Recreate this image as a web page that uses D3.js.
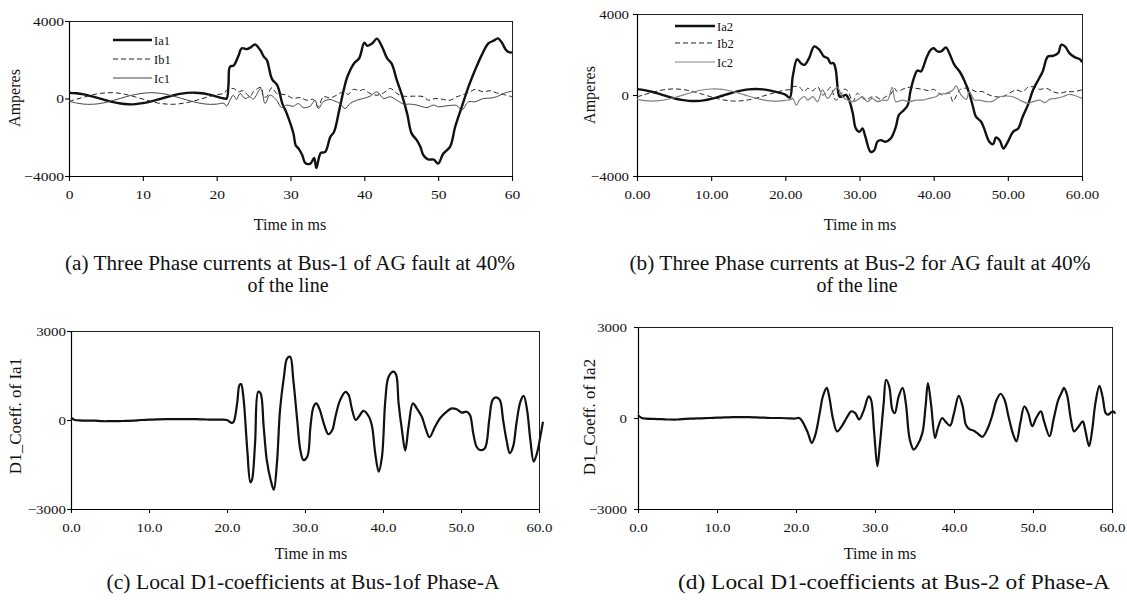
<!DOCTYPE html>
<html>
<head>
<meta charset="utf-8">
<script src="https://cdn.jsdelivr.net/npm/d3@7"></script>
<style>
  html, body { margin: 0; padding: 0; background: #fff; }
  svg { display: block; }
  text { font-family: "Liberation Serif", "Times New Roman", serif; fill: #111; }
</style>
</head>
<body>
<svg id="chart" width="1127" height="601"></svg>
<script>
// ---------------- DATA ----------------
// Panel (a): three phase currents at Bus-1 (Amperes vs ms)
const tIa1 = [0,1,2,3,4,5,6,7,8,9,10,11,12,13,14,15,16,17,18,19,20,21,21.35,21.6,21.8,22.3,22.9,23.4,24.1,24.6,25.2,25.9,26.4,26.8,27.5,28.2,28.9,29.5,30.4,30.7,31.1,31.6,32.0,32.7,33.2,33.5,34.1,34.7,35.4,35.9,36.6,37.2,37.7,38.6,39.3,40.0,40.4,41.1,41.7,42.4,43.1,43.7,44.4,45.1,45.8,46.4,47.1,47.6,48.0,48.7,49.4,50.0,50.7,51.6,52.3,53.2,54.1,55.0,55.9,56.8,57.5,58.1,58.6,59.2,59.7,60.0];
const ia1  = [290,270,210,120,20,-90,-190,-260,-300,-290,-240,-160,-60,50,150,240,290,300,270,200,100,0,0,700,1640,1700,2150,2590,2550,2640,2790,2500,2150,1980,1000,690,-260,-780,-1810,-2410,-2590,-2930,-3330,-3360,-3070,-3590,-2810,-2760,-1980,-1720,-600,430,1120,1810,2070,2880,2720,2850,3090,2670,2070,1800,950,170,-780,-1800,-2150,-2500,-2930,-3150,-3150,-3360,-2840,-2500,-1470,-430,600,1470,2240,2840,2980,3100,2900,2500,2380,2380];

const tIb1 = [0,1,2,3,4,5,6,7,8,9,10,11,12,13,14,15,16,17,18,19,20,21,21.35,22.26,22.93,23.61,24.51,24.97,26.0,26.32,26.77,27.45,28.13,28.8,29.48,30.38,31.29,32.19,33.09,33.77,34.45,35.35,36.25,37.16,37.83,38.51,39.41,39.86,40.77,41.71,42.61,43.51,44.41,45.32,46.67,48.02,48.69,49.59,50.72,51.62,52.52,53.2,54.32,55.0,56.13,57.03,57.93,58.83,60.0];
const ib1  = [-150,-40,70,170,250,290,300,260,180,80,-30,-140,-230,-280,-300,-270,-210,-120,-10,100,200,270,430,520,345,400,90,345,570,90,90,550,260,220,170,0,50,-90,-50,-430,90,30,170,345,220,470,400,470,260,170,290,520,260,120,120,90,-90,0,-50,-90,90,170,345,470,345,400,290,210,90];

const tIc1 = [0,1,2,3,4,5,6,7,8,9,10,11,12,13,14,15,16,17,18,19,20,21,21.35,21.81,22.26,22.71,23.16,23.84,24.51,24.97,26.0,26.55,27.22,28.13,28.8,29.48,30.38,31.06,31.74,32.64,33.32,33.77,34.45,35.35,36.03,36.7,37.38,38.06,38.96,39.86,40.77,41.71,42.61,43.51,44.41,45.32,46.22,47.12,48.47,49.37,50.05,50.72,51.62,52.52,53.2,54.1,55.0,56.13,57.03,57.93,58.83,60.0];
const ic1  = [-150,-230,-290,-300,-270,-200,-100,10,120,210,270,300,280,230,140,30,-80,-180,-260,-300,-290,-250,-400,-90,170,-50,260,0,90,-30,520,-260,170,-90,-470,-340,-400,-260,-470,-400,-90,-520,-170,-50,-140,-260,-520,-260,-90,0,120,345,0,90,-90,-290,-290,-340,-470,-340,-430,-400,-360,-360,-600,-170,-170,0,20,90,260,380];

// Panel (b): three phase currents at Bus-2
const tIa2 = [0,1,2,3,4,5,6,7,8,9,10,11,12,13,14,15,16,17,18,19,20,20.6,21.0,21.6,22.1,22.6,23.2,23.9,24.6,25.2,25.7,26.1,26.5,26.8,27.3,27.6,28.2,28.6,29.1,29.5,30.0,30.4,30.8,31.5,32.0,32.4,32.9,33.5,34.2,34.9,35.3,36.0,36.5,36.9,37.4,37.8,38.3,38.7,39.1,39.6,40.0,40.5,41.0,41.67,42.1,42.8,43.5,44.1,44.8,45.3,45.7,46.4,46.8,47.5,48.0,48.4,48.9,49.4,50.0,50.7,51.4,52.0,52.7,53.4,54.1,54.7,55.4,56.1,56.8,57.2,57.7,58.3,59.0,59.7,60.0];
const ia2  = [290,243,161,56,-56,-161,-243,-290,-298,-263,-191,-93,19,128,219,279,300,279,219,128,19,-130,910,1770,1570,1490,1820,2400,2230,1900,1820,1570,1570,1240,-80,-80,0,-250,-910,-1650,-1820,-1650,-2070,-2810,-2730,-2310,-2230,-2310,-2150,-1570,-990,-740,-500,250,910,1210,1160,1490,1900,2230,2310,2150,2150,2350,2070,1490,1160,740,80,-580,-1070,-1320,-1650,-2310,-2430,-2100,-2230,-2640,-2310,-1820,-1650,-1070,-500,250,740,1160,1900,1930,2070,2480,2400,2070,1870,1770,1620];

const tIb2 = [0,1,2,3,4,5,6,7,8,9,10,11,12,13,14,15,16,17,18,19,20,20.8,21.0,21.9,22.6,23.0,23.7,24.35,25.0,25.5,26.1,26.8,27.5,27.9,28.4,29.1,29.7,30.2,30.9,31.5,32.2,32.9,33.5,34.2,34.7,35.1,35.8,36.7,37.6,38.5,39.4,40.0,40.7,41.2,42.1,42.6,43.0,43.5,44.1,44.8,45.7,46.6,47.5,48.4,49.3,50.2,51.1,52.0,52.7,53.4,54.3,55.2,56.1,57.0,57.9,58.8,60.0];
const ib2  = [-93,19,128,219,279,300,279,219,128,19,-93,-191,-263,-298,-290,-243,-161,-56,56,161,243,284,410,380,165,330,215,410,0,115,380,-250,0,280,215,-330,85,-85,-250,-115,-85,-215,-85,35,330,165,280,380,330,280,215,280,85,0,85,-330,-85,250,330,330,165,165,0,-85,-85,85,250,165,380,410,280,330,165,85,165,165,250];

const tIc2 = [0,1,2,3,4,5,6,7,8,9,10,11,12,13,14,15,16,17,18,19,20,20.8,21.0,21.5,21.9,22.6,23.0,23.7,24.35,25.0,25.7,26.4,27.0,27.7,28.4,29.1,29.7,30.4,31.1,31.7,32.4,33.1,33.8,34.4,34.9,35.8,36.7,37.6,38.5,39.4,40.3,40.8,41.7,42.6,43.0,43.7,44.4,44.8,45.5,46.2,47.1,48.0,48.9,49.8,50.7,51.6,52.7,53.4,54.3,55.0,55.6,56.5,57.4,58.3,59.2,60.0];
const ic2  = [-214,-276,-300,-282,-224,-134,-26,86,185,259,297,292,247,167,63,-49,-155,-238,-289,-298,-266,-214,-165,-500,-250,-85,-250,-85,-330,250,-165,165,380,-85,-250,-330,-250,-85,-330,-165,-330,-250,-250,380,-330,-250,-330,-250,-250,-165,-85,35,85,250,450,0,-215,165,-250,-250,-330,-300,-85,-50,-85,-250,-410,-330,-250,-380,-215,-165,-85,35,-50,-165];

// Panel (c): D1 coefficients of Ia1
const tD1 = [0,0.5,1,2,3,4,5,6,7,8,9,10,11,12,13,14,15,16,17,18,19,20,20.6,20.85,21.3,21.6,21.8,22.1,22.6,23.0,23.2,23.6,24.0,24.3,24.7,25.1,25.6,26.0,26.4,26.8,27.3,27.7,28.1,28.5,29.0,29.4,29.8,30.3,30.7,31.1,31.45,31.9,32.4,33.0,33.5,33.9,34.5,35.2,35.6,36.0,36.5,36.9,37.5,38.2,38.6,39.0,39.45,39.87,40.3,40.72,41.36,41.7,42.0,42.43,42.85,43.28,43.83,44.34,44.98,45.53,45.96,46.68,47.32,48.17,48.81,49.45,50.09,50.72,51.15,51.57,52.0,52.43,53.06,53.62,54.04,54.47,54.98,55.4,55.83,56.26,56.68,57.11,57.62,58.04,58.47,58.89,59.32,59.74,60.17,60.51];
const d1   = [80,0,-10,-20,-20,-40,-40,-40,-30,-20,0,10,20,30,30,30,30,30,20,10,10,0,-100,-60,560,1180,1210,780,-1010,-2100,-2020,-780,950,900,-220,-1350,-2020,-2350,-1460,340,1460,2070,2130,1350,0,-1010,-1350,-1230,-220,450,560,340,-110,-480,-340,110,670,950,840,390,0,110,310,110,-220,-1120,-1740,-1230,670,1460,1630,1510,560,-340,-1030,-220,560,390,110,-340,-580,-220,60,280,390,360,250,280,170,-450,-900,-1010,-950,0,670,760,670,0,-670,-1120,-900,-110,620,810,340,-670,-1400,-1120,-560,-60];

// Panel (d): D1 coefficients of Ia2
const tD2 = [0,0.5,1,2,3,4,5,6,7,8,9,10,11,12,13,14,15,16,17,18,19,19.8,20.4,20.8,21.5,22.0,22.4,23.0,23.4,23.9,24.2,24.7,25.2,25.8,26.4,27.0,27.5,28.0,28.6,29.2,29.5,29.9,30.3,30.6,31.1,31.4,31.8,32.2,32.5,33.0,33.5,33.9,34.4,34.9,35.4,36.0,36.4,36.7,37.1,37.6,37.9,38.5,38.9,39.5,40.0,40.6,41.1,41.5,41.9,42.5,42.9,43.6,44.2,44.8,45.4,45.9,46.4,46.9,47.5,47.9,48.4,48.9,49.4,49.9,50.4,51.0,51.4,52.1,52.6,53.2,53.7,53.9,54.3,54.8,55.2,55.8,56.3,56.6,57.1,57.5,57.9,58.4,58.8,59.2,59.5,59.9,60.2,60.4];
const d2   = [90,0,-20,-30,-40,-50,-50,-30,-20,-10,0,10,20,30,30,30,20,10,0,0,-10,-20,0,-110,-490,-820,-600,160,710,990,710,-50,-440,-270,0,220,160,-50,270,710,600,-490,-1590,-930,490,1260,1040,270,160,710,990,490,-710,-1040,-880,-490,380,1150,440,-660,-380,0,-110,-250,160,730,380,-220,-360,-420,-490,-620,-380,50,600,800,600,50,-550,-770,-160,380,160,-270,0,220,-110,-600,-50,600,880,990,770,-50,-440,-270,-110,-380,-930,-380,490,1060,710,160,110,190,210,140];

// Tick values / labels
const xTicks = [0,10,20,30,40,50,60];
const yTicksAmp = [-4000,0,4000];
const yTicksD1 = [-3000,0,3000];
const legendA = ["Ia1","Ib1","Ic1"];
const legendB = ["Ia2","Ib2","Ic2"];
const captions = {
  a: ["(a) Three Phase currents at Bus-1 of AG fault at 40%", "of the line"],
  b: ["(b) Three Phase currents at Bus-2 for AG fault at 40%", "of the line"],
  c: ["(c) Local D1-coefficients at Bus-1of Phase-A"],
  d: ["(d) Local D1-coefficients at Bus-2 of Phase-A"]
};

// ---------------- DRAWING ----------------
const svg = d3.select("#chart");
const FONT = "Liberation Serif";

function zip(t, v) { return t.map((d, i) => [d, v[i]]); }

function stretchText(sel, sx) {
  sel.each(function () {
    const t = d3.select(this);
    const x = +t.attr("x") || 0;
    t.attr("x", x / sx).attr("transform", `scale(${sx},1)`);
  });
}

function label(x, y, str, o) {
  const g = svg.append("g").attr("transform",
    `translate(${x},${y})` + (o.rotate ? ` rotate(${o.rotate})` : "") + (o.sx ? ` scale(${o.sx},1)` : ""));
  const t = g.append("text")
    .attr("text-anchor", o.anchor || "middle")
    .attr("font-size", o.size)
    .attr("font-family", FONT)
    .text(str);
  if (o.width) t.attr("textLength", o.width).attr("lengthAdjust", "spacingAndGlyphs");
  return t;
}

function panel(cfg) {
  const x = d3.scaleLinear().domain([0, 60]).range([cfg.left, cfg.right]);
  const y = d3.scaleLinear().domain(cfg.yDomain).range([cfg.bottom, cfg.top]);

  // frame (top & right)
  svg.append("path")
    .attr("d", `M${cfg.left},${cfg.top}H${cfg.right}V${cfg.bottom}`)
    .attr("fill", "none").attr("stroke", "#222").attr("stroke-width", 1)
    .attr("shape-rendering", "crispEdges");

  const xa = svg.append("g").attr("transform", `translate(0,${cfg.bottom})`)
    .call(d3.axisBottom(x).tickValues(xTicks).tickFormat(cfg.xFmt)
      .tickSizeInner(cfg.xTick).tickSizeOuter(0).tickPadding(cfg.xPad));
  const ya = svg.append("g").attr("transform", `translate(${cfg.left},0)`)
    .call(d3.axisLeft(y).tickValues(cfg.yTicks).tickFormat(d3.format("d"))
      .tickSizeInner(4).tickSizeOuter(0).tickPadding(cfg.yPad));
  [xa, ya].forEach(a => {
    a.select(".domain").attr("stroke", "#000").attr("stroke-width", 1.2);
    a.selectAll(".tick line").attr("stroke", "#000").attr("stroke-width", 1.1);
    a.selectAll("text").attr("font-family", FONT).attr("font-size", cfg.tickSize).attr("fill", "#111");
    a.attr("font-family", null).attr("font-size", null);
  });
  stretchText(xa.selectAll(".tick text"), cfg.tickSx);
  stretchText(ya.selectAll(".tick text"), cfg.tickSx);

  const line = d3.line().x(d => x(d[0])).y(d => y(d[1])).curve(d3.curveCatmullRom.alpha(0.5));
  cfg.series.forEach(s => {
    svg.append("path")
      .attr("d", line(zip(s.t, s.v)))
      .attr("fill", "none")
      .attr("stroke", s.color)
      .attr("stroke-width", s.width)
      .attr("stroke-dasharray", s.dash || null)
      .attr("stroke-linejoin", "round");
  });

  if (cfg.legend) {
    cfg.legend.names.forEach((n, i) => {
      const s = cfg.series[i];
      const ly = cfg.legend.ys[i];
      svg.append("line")
        .attr("x1", cfg.legend.x1).attr("x2", cfg.legend.x2)
        .attr("y1", ly).attr("y2", ly)
        .attr("stroke", s.color).attr("stroke-width", s.width)
        .attr("stroke-dasharray", s.dash || null);
      label(cfg.legend.x2 + 2, ly + 4.5, n, { size: 12.5, anchor: "start" });
    });
  }

  label(cfg.yTitle.x, cfg.yTitle.y, cfg.yTitle.text, { size: cfg.yTitle.size, rotate: -90 });
  label(cfg.xTitle.x, cfg.xTitle.y, "Time in ms", { size: 16 });
  cfg.caption.forEach(c => label(c.x, c.y, c.text, { size: c.size, width: c.width }));
}

// (a)
panel({
  left: 69, right: 512, top: 21, bottom: 176, yDomain: [-4000, 4000], yTicks: yTicksAmp,
  xFmt: d3.format("d"), xTick: 5, xPad: 8, yPad: 1, tickSize: 13.5, tickSx: 1.15,
  series: [
    { t: tIa1, v: ia1, color: "#111", width: 2.4 },
    { t: tIb1, v: ib1, color: "#222", width: 1, dash: "5,3" },
    { t: tIc1, v: ic1, color: "#444", width: 1 }
  ],
  legend: { names: legendA, x1: 113, x2: 152, ys: [40, 59, 78] },
  yTitle: { x: 20, y: 98, text: "Amperes", size: 16 },
  xTitle: { x: 290, y: 230 },
  caption: [
    { x: 290, y: 270, text: captions.a[0], size: 20, width: 450 },
    { x: 288, y: 292, text: captions.a[1], size: 20 }
  ]
});

// (b)
panel({
  left: 637, right: 1082, top: 14, bottom: 176, yDomain: [-4000, 4000], yTicks: yTicksAmp,
  xFmt: d3.format(".2f"), xTick: 5, xPad: 8, yPad: 4, tickSize: 13.5, tickSx: 1.1,
  series: [
    { t: tIa2, v: ia2, color: "#111", width: 2.4 },
    { t: tIb2, v: ib2, color: "#222", width: 1, dash: "5,3" },
    { t: tIc2, v: ic2, color: "#808080", width: 1.2 }
  ],
  legend: { names: legendB, x1: 675, x2: 715, ys: [26, 43, 62] },
  yTitle: { x: 595, y: 95, text: "Amperes", size: 16 },
  xTitle: { x: 860, y: 230 },
  caption: [
    { x: 860, y: 270, text: captions.b[0], size: 20, width: 461 },
    { x: 857, y: 292, text: captions.b[1], size: 20 }
  ]
});

// (c)
panel({
  left: 71, right: 539, top: 331, bottom: 509, yDomain: [-3000, 3000], yTicks: yTicksD1,
  xFmt: d3.format(".1f"), xTick: 4, xPad: 10, yPad: 1, tickSize: 13, tickSx: 1.15,
  series: [ { t: tD1, v: d1, color: "#111", width: 2.2 } ],
  yTitle: { x: 21, y: 416, text: "D1_Coeff. of Ia1", size: 17 },
  xTitle: { x: 311, y: 559 },
  caption: [ { x: 303, y: 589, text: captions.c[0], size: 20, width: 393 } ]
});

// (d)
panel({
  left: 638, right: 1112, top: 327, bottom: 509, yDomain: [-3000, 3000], yTicks: yTicksD1,
  xFmt: d3.format(".1f"), xTick: 4, xPad: 10, yPad: 7, tickSize: 13, tickSx: 1.15,
  series: [ { t: tD2, v: d2, color: "#111", width: 2.2 } ],
  yTitle: { x: 595, y: 417, text: "D1_Coeff. of Ia2", size: 17 },
  xTitle: { x: 880, y: 559 },
  caption: [ { x: 894, y: 589, text: captions.d[0], size: 20, width: 432 } ]
});
</script>
</body>
</html>
